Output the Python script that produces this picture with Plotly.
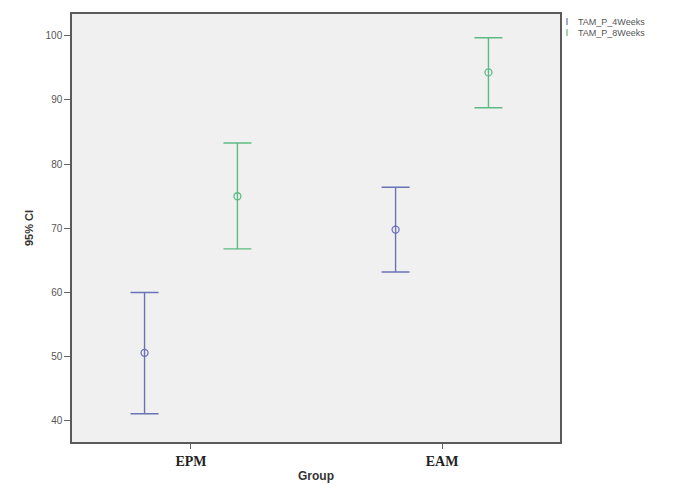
import plotly.graph_objects as go

groups = ["EPM", "EAM"]
series_names = ["TAM_P_4Weeks", "TAM_P_8Weeks"]
means = {"TAM_P_4Weeks": [50.6, 69.8], "TAM_P_8Weeks": [75.0, 94.3]}
upper = {"TAM_P_4Weeks": [60.0, 76.4], "TAM_P_8Weeks": [83.3, 99.7]}
lower = {"TAM_P_4Weeks": [41.1, 63.2], "TAM_P_8Weeks": [66.8, 88.8]}
colors = {"TAM_P_4Weeks": "#6b72b6", "TAM_P_8Weeks": "#5cbc80"}
offsets = {"TAM_P_4Weeks": -0.185, "TAM_P_8Weeks": 0.185}
y_ticks = [40, 50, 60, 70, 80, 90, 100]

L, R, T, B = 72, 113, 14, 43
W, H = 673, 485
pw, ph = W - L - R, H - T - B

def px_x(px):
    return (px - L) / pw

def px_y(py):
    return (H - B - py) / ph

fig = go.Figure()
for name in series_names:
    xs = [i + offsets[name] for i in range(len(groups))]
    m = means[name]
    fig.add_trace(go.Scatter(
        x=xs, y=m, mode="markers", name=name, showlegend=False,
        marker=dict(symbol="circle-open", size=7, color=colors[name], line=dict(width=1.3)),
        error_y=dict(type="data", symmetric=False,
                     array=[u - v for u, v in zip(upper[name], m)],
                     arrayminus=[v - l for v, l in zip(m, lower[name])],
                     color=colors[name], thickness=1.4, width=14),
    ))

# legend drawn as text + small bar symbols
for k, name in enumerate(series_names):
    cy = 21.5 + 11 * k
    fig.add_shape(type="line", xref="paper", yref="paper",
                  x0=px_x(567), x1=px_x(567), y0=px_y(cy - 3.5), y1=px_y(cy + 3.5),
                  line=dict(color=colors[name], width=1.2))
    fig.add_annotation(xref="paper", yref="paper", x=px_x(576), y=px_y(cy),
                       xanchor="left", yanchor="middle", showarrow=False,
                       text=name, font=dict(size=9, color="#555"))

fig.update_layout(
    width=W, height=H,
    margin=dict(l=L, r=R, t=T, b=B, autoexpand=False),
    paper_bgcolor="white", plot_bgcolor="#f0f0f0",
    font=dict(family="Arial, Liberation Sans, sans-serif", color="#444"),
    showlegend=False,
)
fig.update_xaxes(
    range=[-0.474, 1.47], tickmode="array", tickvals=list(range(len(groups))), ticktext=groups,
    tickfont=dict(family="Liberation Serif, Times New Roman, serif", size=14, color="#222", weight="bold"),
    ticks="outside", ticklen=5, tickcolor="#666", automargin=False,
    showline=True, linecolor="#5a5a5a", linewidth=1.5, mirror=True, showgrid=False, zeroline=False,
    title=dict(text="<b>Group</b>", font=dict(size=12, color="#333"), standoff=4),
)
fig.update_yaxes(
    range=[36.7, 103.4], tickmode="array", tickvals=y_ticks,
    tickfont=dict(size=10, color="#555"), automargin=False,
    ticks="outside", ticklen=6, tickcolor="#666",
    showline=True, linecolor="#5a5a5a", linewidth=1.5, mirror=True, showgrid=False, zeroline=False,
    title=dict(text="<b>95% CI</b>", font=dict(size=11, color="#333"), standoff=10),
)

fig.write_html("out.html", config={"displayModeBar": False},
               post_script="document.body.style.margin='0';document.body.style.overflow='hidden';")
